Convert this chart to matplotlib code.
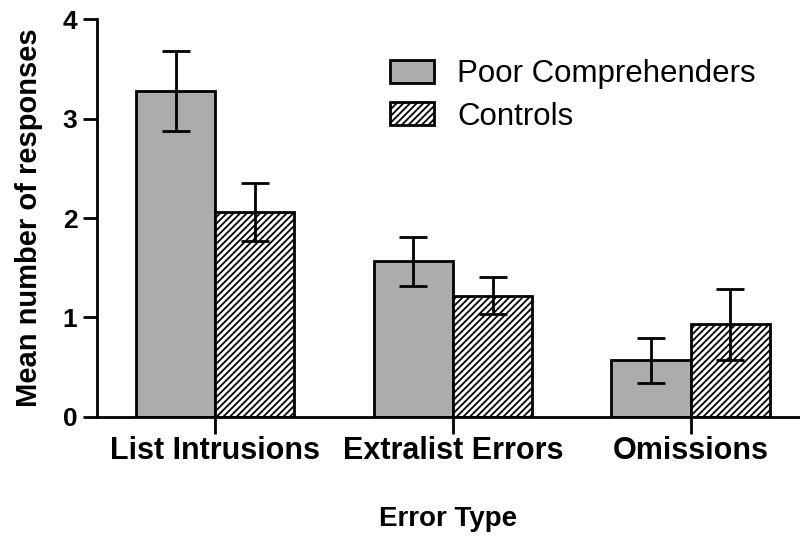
import numpy as np
import matplotlib.pyplot as plt
from matplotlib.patches import Patch

# datos
categorias = ['List Intrusions', 'Extralist Errors', 'Omissions']
poor_media = [3.28, 1.565, 0.567]
poor_err = [0.40, 0.245, 0.23]
ctrl_media = [2.06, 1.22, 0.93]
ctrl_err = [0.29, 0.19, 0.355]
y_ticks = [0, 1, 2, 3, 4]

plt.rcParams['font.family'] = ['Liberation Sans', 'DejaVu Sans']
plt.rcParams['hatch.linewidth'] = 1.3

fig = plt.figure(figsize=(8, 5.38), dpi=100)
ax = fig.add_axes([0.121, 0.2255, 0.879, 0.7385])

x = np.arange(len(categorias))
ancho = 1 / 3

ax.bar(x - ancho / 2, poor_media, ancho, color='#acacac', edgecolor='black',
       linewidth=2, label='Poor Comprehenders')
ax.bar(x + ancho / 2, ctrl_media, ancho, color='white', edgecolor='black',
       linewidth=2, hatch='/////', label='Controls')
ax.errorbar(x - ancho / 2, poor_media, yerr=poor_err, fmt='none', ecolor='black',
            elinewidth=2, capsize=10, capthick=2)
ax.errorbar(x + ancho / 2, ctrl_media, yerr=ctrl_err, fmt='none', ecolor='black',
            elinewidth=2, capsize=10, capthick=2)

ax.set_xlim(-0.498, 2.46)
ax.set_ylim(0, 4)
ax.set_yticks(y_ticks)
ax.set_yticklabels([str(v) for v in y_ticks], fontsize=19, fontweight='bold')
ax.set_xticks(x)
ax.set_xticklabels(categorias, fontsize=22, fontweight='bold')
ax.tick_params(axis='y', length=10, width=2, direction='out', pad=4)
ax.tick_params(axis='x', length=12, width=2, direction='out', pad=2)

for lado in ['top', 'right']:
    ax.spines[lado].set_visible(False)
for lado in ['left', 'bottom']:
    ax.spines[lado].set_linewidth(2)

ax.set_ylabel('Mean number of responses', fontsize=21, fontweight='bold', labelpad=14)
ax.set_xlabel('Error Type', fontsize=20, fontweight='bold', labelpad=29)

handles = [Patch(facecolor='#acacac', edgecolor='black', linewidth=2),
           Patch(facecolor='white', edgecolor='black', linewidth=2, hatch='/////')]
ax.legend(handles, ['Poor Comprehenders', 'Controls'], loc='upper left',
          bbox_to_anchor=(0.417, 0.90), frameon=False, fontsize=22.5,
          borderaxespad=0, borderpad=0,
          handlelength=1.4, handleheight=0.77, handletextpad=0.75, labelspacing=0.4)

fig.savefig('out.png', dpi=100)
